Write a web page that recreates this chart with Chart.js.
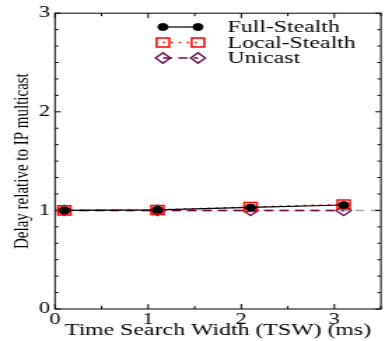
<!DOCTYPE html>
<html>
<head>
<meta charset="utf-8">
<script src="https://cdn.jsdelivr.net/npm/chart.js"></script>
<style>
  html, body { margin: 0; padding: 0; background: #fff; overflow: hidden; }
  #wrap { width: 385px; height: 341px; overflow: hidden; }
  /* the original figure is stretched sideways, so draw narrow and stretch */
  #chart { transform: scaleX(1.4); transform-origin: 0 0; display: block; }
</style>
</head>
<body>
<div id="wrap"><canvas id="chart" width="280" height="341"></canvas></div>
<script>
// TSW values (ms) and delay relative to IP multicast
const tsw = [0.1, 1.1, 2.1, 3.1]
const fullStealth = [1.0, 1.005, 1.03, 1.055]
const localStealth = [1.0, 1.005, 1.035, 1.06]
const unicast = [1.0, 1.0, 1.0, 1.0]
const xTicks = [0, 1, 2, 3]
const yTicks = [0, 1, 2, 3]
const baseline = 1

const maroon = '#670748'
const serif = '"Liberation Serif", "Times New Roman", serif'

const toPoints = (ys) => tsw.map((x, i) => ({ x: x, y: ys[i] }))

// marker like Chart.js pointStyle, used for the legend samples
function marker(ctx, style, r, x, y) {
  ctx.beginPath()
  if (style === 'circle') {
    ctx.arc(x, y, r, 0, Math.PI * 2)
  } else if (style === 'rect') {
    const s = Math.SQRT1_2 * r
    ctx.rect(x - s, y - s, 2 * s, 2 * s)
  } else {
    ctx.moveTo(x - r, y)
    ctx.lineTo(x, y - r)
    ctx.lineTo(x + r, y)
    ctx.lineTo(x, y + r)
    ctx.closePath()
  }
  ctx.fill()
  ctx.stroke()
}

const framePlugin = {
  id: 'frame',
  beforeDatasetsDraw(chart) {
    const { ctx, chartArea: a, scales } = chart
    ctx.save()
    // grey reference line at 1
    const yb = scales.y.getPixelForValue(baseline)
    ctx.strokeStyle = '#a8a8a8'
    ctx.lineWidth = 1.5
    ctx.setLineDash([6.5, 4.5])
    ctx.lineDashOffset = 5.5
    ctx.beginPath()
    ctx.moveTo(a.left, yb)
    ctx.lineTo(a.right, yb)
    ctx.stroke()
    ctx.setLineDash([])

    ctx.strokeStyle = '#000'
    ctx.lineWidth = 1
    ctx.strokeRect(a.left, a.top, a.right - a.left, a.bottom - a.top)

    // inward ticks on all four sides
    ctx.beginPath()
    for (let v = 0; v <= 3.5 + 1e-6; v += 0.5) {
      const x = scales.x.getPixelForValue(v)
      const len = Number.isInteger(v) ? 5 : 3
      ctx.moveTo(x, a.bottom); ctx.lineTo(x, a.bottom - len)
      ctx.moveTo(x, a.top); ctx.lineTo(x, a.top + len)
    }
    for (let k = 0; k <= 18; k++) {
      const y = scales.y.getPixelForValue(k / 6)
      const len = k % 6 === 0 ? 4 : 2.5
      ctx.moveTo(a.left, y); ctx.lineTo(a.left + len, y)
      ctx.moveTo(a.right, y); ctx.lineTo(a.right - len, y)
    }
    ctx.stroke()
    ctx.restore()
  }
}

const legendPlugin = {
  id: 'plotLegend',
  afterDraw(chart) {
    const { ctx } = chart
    const x1 = 116.4, x2 = 141.4, xt = 162.5
    const rows = [27, 42.5, 58]
    ctx.save()
    chart.data.datasets.forEach((ds, i) => {
      const y = rows[i]
      ctx.strokeStyle = ds.borderColor
      ctx.lineWidth = ds.borderWidth
      ctx.setLineDash(ds.borderDash || [])
      ctx.beginPath()
      ctx.moveTo(x1, y)
      ctx.lineTo(x2, y)
      ctx.stroke()
      ctx.setLineDash([])
      ctx.fillStyle = ds.pointBackgroundColor
      ctx.strokeStyle = ds.pointBorderColor
      ctx.lineWidth = ds.pointBorderWidth
      marker(ctx, ds.pointStyle, ds.pointRadius, x1, y)
      marker(ctx, ds.pointStyle, ds.pointRadius, x2, y)
      ctx.fillStyle = '#000'
      ctx.font = '17px ' + serif
      ctx.textBaseline = 'middle'
      ctx.textAlign = 'left'
      ctx.fillText(ds.label, xt, y + 1)
    })
    ctx.restore()
  }
}

new Chart(document.getElementById('chart'), {
  type: 'line',
  data: {
    datasets: [
      {
        label: 'Full-Stealth',
        data: toPoints(fullStealth),
        borderColor: '#000',
        borderWidth: 1.2,
        pointStyle: 'circle',
        pointRadius: 3.5,
        pointBackgroundColor: '#000',
        pointBorderColor: '#000',
        pointBorderWidth: 1
      },
      {
        label: 'Local-Stealth',
        data: toPoints(localStealth),
        borderColor: '#ff0000',
        borderWidth: 1.5,
        borderDash: [1.5, 4.2],
        pointStyle: 'rect',
        pointRadius: 6.4,
        pointBackgroundColor: 'rgba(0,0,0,0)',
        pointBorderColor: '#ff0000',
        pointBorderWidth: 1.5
      },
      {
        label: 'Unicast',
        data: toPoints(unicast),
        borderColor: maroon,
        borderWidth: 1.5,
        borderDash: [6.5, 4.5],
        pointStyle: 'rectRot',
        pointRadius: 5.3,
        pointBackgroundColor: 'rgba(0,0,0,0)',
        pointBorderColor: maroon,
        pointBorderWidth: 1.3
      }
    ]
  },
  options: {
    responsive: false,
    animation: false,
    devicePixelRatio: 1,
    layout: { padding: { top: 13, right: 2.9, left: 0, bottom: 0 } },
    plugins: { legend: { display: false }, tooltip: { enabled: false } },
    scales: {
      x: {
        type: 'linear',
        min: 0,
        max: 3.5,
        afterBuildTicks: (scale) => { scale.ticks = xTicks.map(v => ({ value: v })) },
        afterFit: (scale) => { scale.height = 32 },
        grid: { display: false, drawTicks: false },
        border: { display: false },
        ticks: { color: '#000', padding: 1, font: { family: serif, size: 16 } },
        title: {
          display: true,
          text: 'Time Search Width (TSW) (ms)',
          color: '#000',
          font: { family: serif, size: 17 },
          padding: { top: 0, bottom: 0 }
        }
      },
      y: {
        type: 'linear',
        min: 0,
        max: 3,
        afterBuildTicks: (scale) => { scale.ticks = yTicks.map(v => ({ value: v })) },
        afterFit: (scale) => { scale.width = 39.3 },
        grid: { display: false, drawTicks: false },
        border: { display: false },
        ticks: { color: '#000', padding: 3.6, font: { family: serif, size: 16 } },
        title: {
          display: true,
          text: 'Delay relative to IP multicast',
          color: '#000',
          font: { family: serif, size: 15 },
          padding: { top: 7.4, bottom: 0 }
        }
      }
    }
  },
  plugins: [framePlugin, legendPlugin]
})
</script>
</body>
</html>
